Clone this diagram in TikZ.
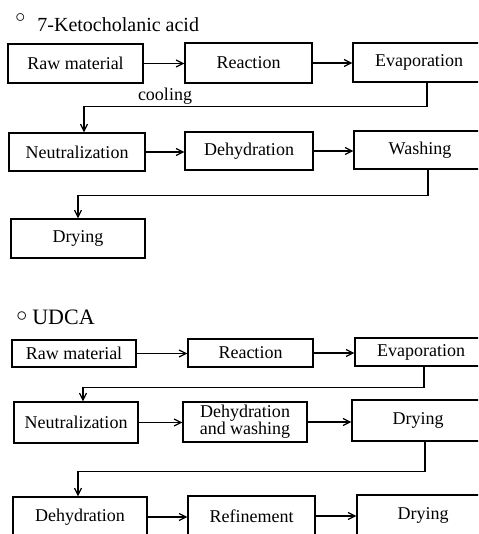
\documentclass[tikz,border=0pt]{standalone}
\usepackage{fontspec}
\setmainfont{Liberation Serif}
\usetikzlibrary{arrows.meta, positioning, calc}

\begin{document}
\begin{tikzpicture}[x=0.5pt, y=-0.5pt,
    box/.style={draw, line width=0.6pt, inner sep=1pt, font=\fontsize{9}{8.5}\selectfont, align=center},
    flow/.style={-{Straight Barb[length=3.5pt, width=3.5pt]}, line width=0.6pt},
    title/.style={anchor=base west, inner sep=0pt}]
  \useasboundingbox (0,0) rectangle (478,534);
  \clip (0,0) rectangle (478,534);
  % Titles
  \node[title, font=\fontsize{10}{12}\selectfont] (ketoT) at (15,32) {\raisebox{4.5pt}{$\circ$}\hspace{6pt}7-Ketocholanic acid};
  \node[title, font=\fontsize{11}{13}\selectfont] (udcaT) at (16,324) {\raisebox{1.5pt}{$\circ$}\hspace{2.5pt}UDCA};

  % 7-Ketocholanic acid line
  \node[box, minimum width=67.5pt, minimum height=19.5pt] (raw1) at (75.5,63.5) {Raw material};
  \node[box, minimum width=63.5pt, minimum height=20pt] (react1) at (248.5,63) {Reaction};
  \node[box, minimum width=66pt, minimum height=19.5pt] (evap1) at (419,62.5) {Evaporation};
  \node[box, minimum width=68pt, minimum height=19pt] (neut1) at (77,152) {Neutralization};
  \node[box, minimum width=64pt, minimum height=19pt] (dehyd1) at (249,151) {Dehydration};
  \node[box, minimum width=66pt, minimum height=19pt] (wash1) at (420,150) {Washing};
  \node[box, minimum width=67pt, minimum height=19.5pt] (dry1) at (78,238.5) {Drying};
  \node[font=\fontsize{9}{11}\selectfont, inner sep=0pt] (cool) at (165,96) {cooling};

  \draw[flow] (raw1.east) -- (raw1.east -| react1.west);
  \draw[flow] (react1.east) -- (react1.east -| evap1.west);
  \draw[flow] ([xshift=4pt]evap1.south) -- ++(0,24) -| ([xshift=3.5pt]neut1.north);
  \draw[flow] (neut1.east) -- (neut1.east -| dehyd1.west);
  \draw[flow] (dehyd1.east) -- (dehyd1.east -| wash1.west);
  \draw[flow] ([xshift=4pt]wash1.south) -- ++(0,26) -| (dry1.north);

  % UDCA line
  \node[box, minimum width=62pt, minimum height=13.5pt] (raw2) at (74,353.5) {Raw material};
  \node[box, minimum width=62.5pt, minimum height=14pt] (react2) at (250.5,353) {Reaction};
  \node[box, minimum width=66pt, minimum height=14pt] (evap2) at (421,352) {Evaporation};
  \node[box, minimum width=62pt, minimum height=20.5pt] (neut2) at (76,422.5) {Neutralization};
  \node[box, minimum width=62pt, minimum height=20pt] (dewash2) at (245,422) {Dehydration\\and washing};
  \node[box, minimum width=66pt, minimum height=20.5pt] (dry2) at (418,420.5) {Drying};
  \node[box, minimum width=67pt, minimum height=20pt] (dehyd3) at (80,517) {Dehydration};
  \node[box, minimum width=63.5pt, minimum height=20pt] (refine3) at (251.5,516) {Refinement};
  \node[box, minimum width=66pt, minimum height=20pt] (dry3) at (423,515) {Drying};

  \draw[flow] (raw2.east) -- (raw2.east -| react2.west);
  \draw[flow] (react2.east) -- (react2.east -| evap2.west);
  \draw[flow] ([xshift=1.5pt]evap2.south) -- ++(0,21) -| ([xshift=3.5pt]neut2.north);
  \draw[flow] (neut2.east) -- (neut2.east -| dewash2.west);
  \draw[flow] (dewash2.east) -- (dewash2.east -| dry2.west);
  \draw[flow] ([xshift=3.5pt]dry2.south) -- ++(0,30) -| ([xshift=-1pt]dehyd3.north);
  \draw[flow] (dehyd3.east) -- (dehyd3.east -| refine3.west);
  \draw[flow] (refine3.east) -- (refine3.east -| dry3.west);
\end{tikzpicture}
\end{document}
